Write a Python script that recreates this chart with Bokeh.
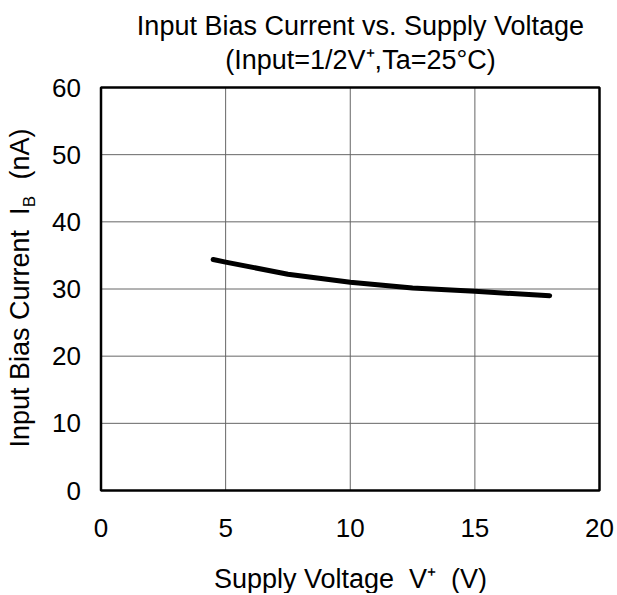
from math import pi
from bokeh.plotting import figure
from bokeh.models import Range1d, Label, FixedTicker, LinearAxis
from bokeh.embed import file_html
from bokeh.resources import INLINE

# ---- data ----
supply_v = [4.5, 5.0, 7.5, 10.0, 12.5, 15.0, 17.5, 18.0]
bias_na = [34.4, 34.0, 32.2, 31.0, 30.15, 29.65, 29.1, 29.0]
x_ticks = [0, 5, 10, 15, 20]
y_ticks = [0, 10, 20, 30, 40, 50, 60]

# ---- layout (pixels) ----
W, H = 615, 593
FL, FR, FT, FB = 100.5, 599.0, 87.0, 490.0   # plot box edges on the canvas
FONT = "Liberation Sans"
SP = "\u00a0\u00a0"

x0, x1 = x_ticks[0], x_ticks[-1]
y0, y1 = y_ticks[0], y_ticks[-1]
sx = (FR - FL) / (x1 - x0)
sy = (FB - FT) / (y1 - y0)

def px2x(px):
    return x0 + (px - FL) / sx

def px2y(py):
    return y0 + (FB - py) / sy

p = figure(width=W, height=H, output_backend="svg", toolbar_location=None,
           x_axis_type=None, y_axis_type=None,
           x_range=Range1d(px2x(0), px2x(W)), y_range=Range1d(px2y(H), px2y(0)),
           min_border=0)
p.outline_line_color = None
p.background_fill_color = "white"
p.border_fill_color = "white"

# grid lines inside the box
inner_x = x_ticks[1:-1]
inner_y = y_ticks[1:-1]
p.segment(x0=inner_x, y0=[y0] * len(inner_x), x1=inner_x, y1=[y1] * len(inner_x),
          line_color="#666666", line_width=1)
p.segment(x0=[x0] * len(inner_y), y0=inner_y, x1=[x1] * len(inner_y), y1=inner_y,
          line_color="#666666", line_width=1)

# curve
p.line(supply_v, bias_na, line_width=5, line_color="black", line_cap="round", line_join="round")

# box
p.quad(left=[x0], right=[x1], bottom=[y0], top=[y1], fill_color=None,
       line_color="black", line_width=2.5)

# axes (tick labels only)
xa = LinearAxis(fixed_location=y0, ticker=FixedTicker(ticks=x_ticks))
ya = LinearAxis(fixed_location=x0, ticker=FixedTicker(ticks=y_ticks))
for ax in (xa, ya):
    ax.axis_line_color = None
    ax.major_tick_line_color = None
    ax.minor_tick_line_color = None
    ax.major_tick_out = 0
    ax.major_tick_in = 0
    ax.major_label_text_font = FONT
    ax.major_label_text_font_size = "26px"
    ax.major_label_text_color = "black"
xa.major_label_standoff = 28
ya.major_label_standoff = 20
p.add_layout(xa, "below")
p.add_layout(ya, "left")

def lab(px, py, t, size="27px", angle=0, align="center", baseline="alphabetic"):
    p.add_layout(Label(x=px2x(px), y=px2y(py), text=t, text_font=FONT, text_font_size=size,
                       angle=angle, text_align=align, text_baseline=baseline,
                       text_color="black"))

# title
lab(360, 25.5, "Input Bias Current vs. Supply Voltage")
lab(360, 59.5, "(Input=1/2V\u207a,Ta=25\u00b0C)")

# x axis label
lab(350, 578, "Supply Voltage" + SP + "V\u207a" + SP + "(V)")

# y axis label
lab(19.5, 447, "Input Bias Current" + SP + "I", angle=pi / 2, align="left")
lab(29.0, 201, "B", size="17px", angle=pi / 2)
lab(19.5, 179, "(nA)", angle=pi / 2, align="left")

open("out.html", "w").write(file_html(p, INLINE))
